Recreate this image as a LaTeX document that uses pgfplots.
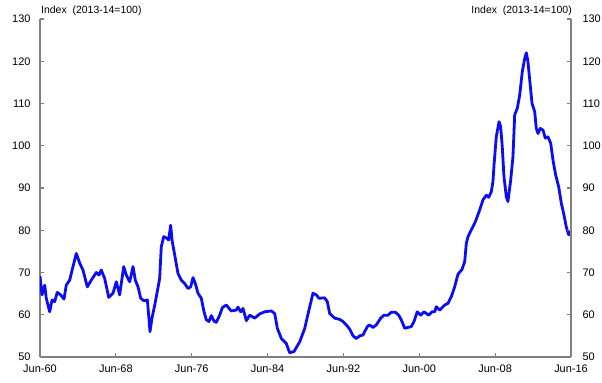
\documentclass[border=0pt]{standalone}
\usepackage{fontspec}
\setmainfont{Liberation Sans}
\usepackage{pgfplots}
\pgfplotsset{compat=1.18}
\definecolor{axgray}{RGB}{128,128,128}
\definecolor{lineblue}{RGB}{12,12,245}
\pgfplotstableread{
x y
1960.50 69.2
1960.71 64.7
1961.00 67.0
1961.16 63.9
1961.52 60.7
1961.77 63.5
1962.05 63.1
1962.32 65.3
1962.68 64.7
1963.03 63.7
1963.27 67.0
1963.63 68.2
1963.98 71.4
1964.33 74.5
1964.69 72.2
1965.03 70.6
1965.49 66.6
1965.91 68.2
1966.44 70.0
1966.72 69.4
1966.96 70.6
1967.32 68.6
1967.75 64.1
1968.20 65.1
1968.55 67.8
1968.90 64.7
1969.33 71.4
1969.60 69.4
1969.96 67.8
1970.31 71.4
1970.55 68.2
1970.84 66.6
1971.12 63.9
1971.47 63.3
1971.82 63.5
1971.96 59.9
1972.10 56.0
1972.31 59.2
1972.60 62.3
1972.87 65.5
1973.12 68.6
1973.29 76.1
1973.55 78.5
1973.89 78.1
1974.07 77.7
1974.28 81.2
1974.42 77.7
1974.71 74.1
1975.05 69.8
1975.40 68.2
1975.76 67.4
1976.11 66.2
1976.39 66.6
1976.64 68.8
1976.88 67.4
1977.16 65.1
1977.51 63.9
1977.80 60.7
1978.04 58.8
1978.32 58.4
1978.57 59.8
1978.85 58.5
1979.09 58.2
1979.45 59.9
1979.73 61.7
1980.15 62.3
1980.67 60.9
1981.20 61.1
1981.38 61.8
1981.67 60.7
1981.91 61.5
1982.26 58.6
1982.62 59.9
1983.14 59.2
1983.67 60.2
1984.20 60.7
1984.89 60.9
1985.25 60.3
1985.53 56.8
1985.95 54.4
1986.47 53.2
1986.83 51.0
1987.29 51.3
1987.89 53.6
1988.42 56.8
1988.80 60.5
1989.29 65.1
1989.64 64.7
1989.92 63.9
1990.52 64.0
1990.80 63.1
1991.05 60.3
1991.58 59.2
1992.11 58.9
1992.45 58.4
1992.80 57.6
1993.16 56.6
1993.51 55.0
1993.86 54.4
1994.22 55.0
1994.56 55.2
1995.02 57.2
1995.27 57.6
1995.62 57.0
1995.97 57.6
1996.43 59.2
1996.78 59.9
1997.20 59.9
1997.55 60.6
1997.97 60.6
1998.33 59.9
1998.60 58.8
1998.96 56.8
1999.31 57.0
1999.66 57.2
1999.94 58.4
2000.29 60.7
2000.65 59.9
2001.00 60.7
2001.49 59.9
2001.84 60.7
2002.13 60.7
2002.29 61.9
2002.65 61.1
2003.18 62.3
2003.53 62.7
2003.88 64.3
2004.23 66.6
2004.58 69.6
2005.00 70.7
2005.29 72.6
2005.46 76.9
2005.64 78.5
2005.99 80.1
2006.41 82.0
2006.87 84.8
2007.22 87.2
2007.57 88.3
2007.82 87.8
2008.09 89.1
2008.27 91.5
2008.38 95.4
2008.62 102.1
2008.91 105.7
2009.08 104.5
2009.25 99.8
2009.43 92.7
2009.68 87.9
2009.85 86.8
2010.14 91.9
2010.38 97.4
2010.56 107.3
2010.84 108.9
2011.09 112.0
2011.36 117.5
2011.62 120.7
2011.79 122.0
2011.96 119.9
2012.18 114.8
2012.39 110.0
2012.67 108.1
2012.84 104.1
2013.02 102.9
2013.26 104.1
2013.55 103.7
2013.79 101.8
2014.07 102.1
2014.36 100.6
2014.60 96.6
2014.88 93.1
2015.20 90.3
2015.48 86.4
2015.76 83.6
2016.00 80.8
2016.26 78.9
2016.47 79.7
}\datatable
\begin{document}
\begin{tikzpicture}
\pgfplotsset{common/.style={
  scale only axis, width=531bp, height=338bp,
  xmin=1960.5, xmax=2016.5, ymin=50, ymax=130,
  ytick={50,60,...,130},
  xtick={1960.5,1968.5,1976.5,1984.5,1992.5,2000.5,2008.5,2016.5},
  xticklabels={Jun-60,Jun-68,Jun-76,Jun-84,Jun-92,Jun-00,Jun-08,Jun-16},
  tick align=inside, major tick length=4bp,
  axis line style={axgray, line width=1.6bp, -},
  every tick/.style={axgray, line width=1.2bp},
  tick label style={font=\fontsize{11}{13}\selectfont},
  /pgf/number format/assume math mode=true,
  xticklabel style={yshift=-4bp},
}}
\begin{axis}[common, name=ax1,
  axis x line*=bottom, axis y line*=left,
  yticklabel style={xshift=-6bp},
]
\addplot[lineblue, line width=2.8bp, line join=round] table[x=x,y=y]{\datatable};
\end{axis}
\begin{axis}[common,
  axis x line=none, axis y line*=right,
  yticklabel style={xshift=8bp},
]
\end{axis}
\node[anchor=base west, font=\fontsize{10.5}{12}\selectfont, inner sep=0pt] at (1bp,343bp) {Index\ \ (2013-14=100)};
\node[anchor=base east, font=\fontsize{10.5}{12}\selectfont, inner sep=0pt] at (532bp,343bp) {Index\ \ (2013-14=100)};
\pgfresetboundingbox
\path (-40bp,-26bp) rectangle (562bp,357bp);
\end{tikzpicture}
\end{document}
